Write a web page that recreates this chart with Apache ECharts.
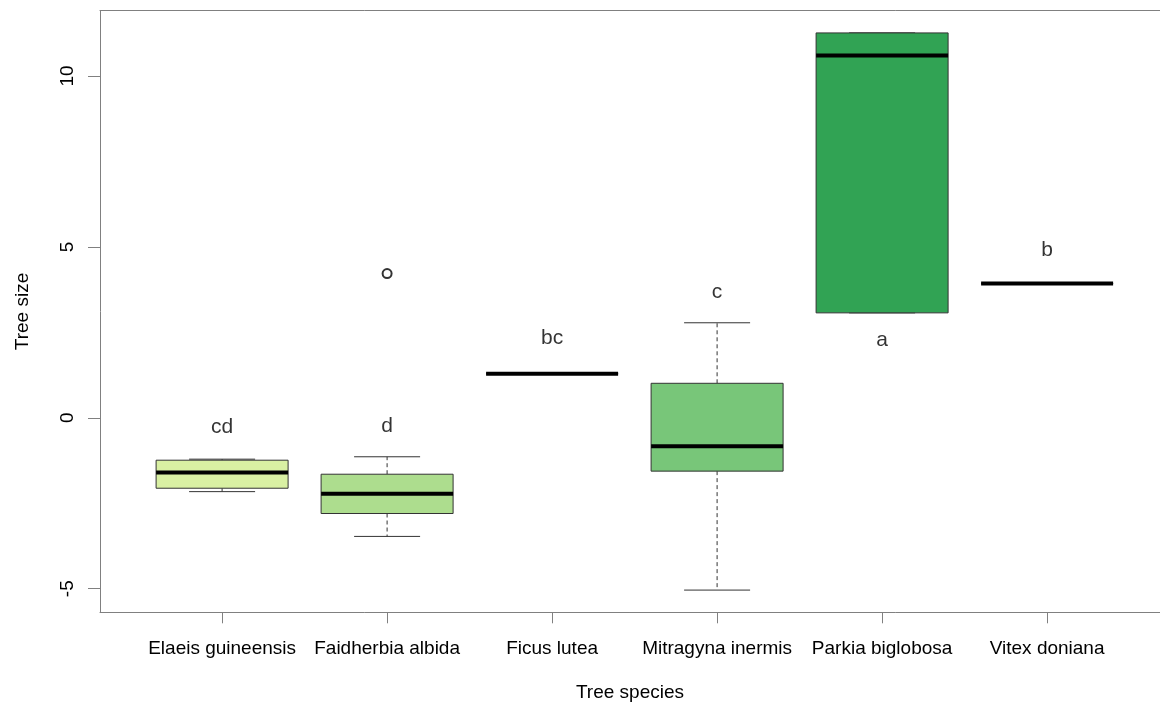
<!DOCTYPE html>
<html>
<head>
<meta charset="utf-8">
<script src="https://cdn.jsdelivr.net/npm/echarts@6/dist/echarts.min.js"></script>
<style>
    html, body { margin: 0; padding: 0; background: #fff; }
    #chart { width: 1160px; height: 704px; }
</style>
</head>
<body>
<div id="chart"></div>
<script>
    // data
    const species = ['Elaeis guineensis', 'Faidherbia albida', 'Ficus lutea', 'Mitragyna inermis', 'Parkia biglobosa', 'Vitex doniana']
    const whiskerLow = [-2.16, -3.47, 1.29, -5.04, 3.07, 3.93]
    const q1 = [-2.06, -2.80, 1.29, -1.56, 3.07, 3.93]
    const median = [-1.60, -2.22, 1.29, -0.83, 10.60, 3.93]
    const q3 = [-1.24, -1.65, 1.29, 1.01, 11.26, 3.93]
    const whiskerHigh = [-1.21, -1.14, 1.29, 2.78, 11.26, 3.93]
    const fillColors = ['#d9f0a3', '#addd8e', '#78c679', '#78c679', '#31a354', '#006837']
    // outliers: [species index, value]
    const outliers = [[2, 4.22]]
    // significance letters
    const letters = ['cd', 'd', 'bc', 'c', 'a', 'b']
    const letterY = [-0.28, -0.25, 2.33, 3.67, 2.27, 4.90]
    const yTicks = [-5, 0, 5, 10]
    const xTicks = [1, 2, 3, 4, 5, 6]

    const font = "'Liberation Sans', Arial, sans-serif"
    const axisGray = '#808080'
    const boxWidth = 0.8

    const chart = echarts.init(document.getElementById('chart'))

    function renderBox(params, api) {
        const x = api.value(0)
        const lo = api.coord([x, api.value(1)])
        const b1 = api.coord([x, api.value(2)])
        const md = api.coord([x, api.value(3)])
        const b3 = api.coord([x, api.value(4)])
        const hi = api.coord([x, api.value(5)])
        const w = api.size([boxWidth, 0])[0]
        const cx = lo[0]
        const edge = '#333'
        const dashed = {stroke: edge, lineWidth: 1, lineDash: [4, 3]}
        const solid = {stroke: edge, lineWidth: 1}
        return {
            type: 'group',
            children: [
                // whiskers
                {type: 'line', shape: {x1: cx, y1: b1[1], x2: cx, y2: lo[1]}, style: dashed},
                {type: 'line', shape: {x1: cx, y1: b3[1], x2: cx, y2: hi[1]}, style: dashed},
                // caps
                {type: 'line', shape: {x1: cx - w / 4, y1: lo[1], x2: cx + w / 4, y2: lo[1]}, style: solid},
                {type: 'line', shape: {x1: cx - w / 4, y1: hi[1], x2: cx + w / 4, y2: hi[1]}, style: solid},
                // box
                {type: 'rect', shape: {x: cx - w / 2, y: b3[1], width: w, height: b1[1] - b3[1]},
                    style: {fill: fillColors[params.dataIndex], stroke: edge, lineWidth: 1}},
                // median
                {type: 'line', shape: {x1: cx - w / 2, y1: md[1], x2: cx + w / 2, y2: md[1]},
                    style: {stroke: '#000', lineWidth: 4}}
            ]
        }
    }

    // plot area runs past the right edge of the picture, so the x range is cut there
    const gridWidth = 1060
    const xMin = 0.26
    const xMax = xMin + gridWidth / 165

    const option = {
        animation: false,
        backgroundColor: '#fff',
        grid: {
            left: 100,
            top: 10.7,
            width: gridWidth,
            height: 601.6,
            show: false,
            outerBoundsMode: 'none',
            containLabel: false
        },
        xAxis: [
            {
                type: 'value',
                min: xMin,
                max: xMax,
                name: 'Tree species',
                nameLocation: 'middle',
                nameGap: 71,
                nameTextStyle: {color: '#000', fontSize: 19, fontFamily: font},
                splitLine: {show: false},
                axisLine: {show: true, onZero: false, lineStyle: {color: axisGray}},
                axisTick: {show: true, length: 11, customValues: xTicks, lineStyle: {color: axisGray}},
                axisLabel: {
                    customValues: xTicks,
                    margin: 27,
                    color: '#000',
                    fontSize: 19,
                    fontFamily: font,
                    formatter: v => species[Math.round(v) - 1]
                }
            },
            {
                // top border of the frame
                type: 'value',
                position: 'top',
                min: xMin,
                max: xMax,
                splitLine: {show: false},
                axisLine: {show: true, onZero: false, lineStyle: {color: axisGray}},
                axisTick: {show: false},
                axisLabel: {show: false}
            }
        ],
        yAxis: {
            type: 'value',
            min: -5.69,
            max: 11.91,
            name: 'Tree size',
            nameLocation: 'middle',
            nameRotate: 90,
            nameGap: 68,
            nameTextStyle: {color: '#000', fontSize: 19, fontFamily: font},
            splitLine: {show: false},
            axisLine: {show: true, onZero: false, lineStyle: {color: axisGray}},
            axisTick: {show: true, length: 12, customValues: yTicks, lineStyle: {color: axisGray}},
            axisLabel: {
                customValues: yTicks,
                rotate: 90,
                margin: 23,
                color: '#000',
                fontSize: 19,
                fontFamily: font
            }
        },
        series: [
            {
                name: 'boxes',
                type: 'custom',
                renderItem: renderBox,
                encode: {x: 0, y: [1, 2, 3, 4, 5]},
                data: species.map((s, i) => [i + 1, whiskerLow[i], q1[i], median[i], q3[i], whiskerHigh[i]]),
                z: 2
            },
            {
                name: 'outliers',
                type: 'scatter',
                symbol: 'emptyCircle',
                symbolSize: 9,
                itemStyle: {color: '#000', borderColor: '#222', borderWidth: 1.5},
                data: outliers,
                z: 3
            },
            {
                name: 'letters',
                type: 'scatter',
                symbolSize: 0,
                data: letters.map((l, i) => [i + 1, letterY[i]]),
                label: {
                    show: true,
                    position: 'inside',
                    formatter: p => letters[p.dataIndex],
                    color: '#000',
                    fontSize: 21,
                    fontFamily: font
                },
                z: 4
            }
        ]
    }

    chart.setOption(option)
    window.addEventListener('resize', function() {
        chart.resize()
    })
</script>
</body>
</html>
